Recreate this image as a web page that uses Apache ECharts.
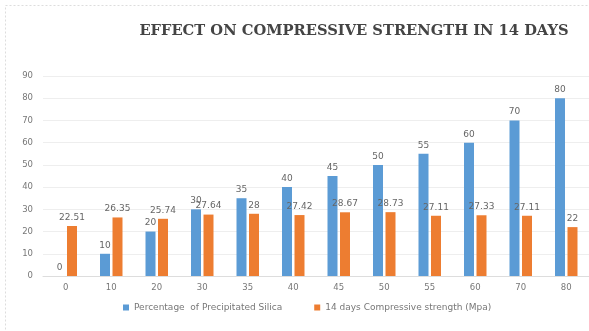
<!DOCTYPE html>
<html>
<head>
<meta charset="utf-8">
<script src="https://cdn.jsdelivr.net/npm/echarts@6/dist/echarts.min.js"></script>
<style>
  html, body { margin: 0; padding: 0; background: #fff; }
  #chart { width: 589px; height: 331px; }
</style>
</head>
<body>
<div id="chart"></div>
<script>
const categories = ['0', '10', '20', '30', '35', '40', '45', '50', '55', '60', '70', '80'];
const silica = [0, 10, 20, 30, 35, 40, 45, 50, 55, 60, 70, 80];
const strength = [22.51, 26.35, 25.74, 27.64, 28, 27.42, 28.67, 28.73, 27.11, 27.33, 27.11, 22];

const sans = 'DejaVu Sans';
const chart = echarts.init(document.getElementById('chart'));
chart.setOption({
  animation: false,
  backgroundColor: '#fff',
  title: {
    text: 'EFFECT ON COMPRESSIVE STRENGTH IN 14 DAYS',
    left: 349,
    top: 19,
    textAlign: 'center',
    textStyle: {
      fontFamily: 'DejaVu Serif',
      fontWeight: 'bold',
      fontSize: 14.7,
      color: '#444'
    }
  },
  legend: {
    bottom: 14,
    left: 118,
    itemWidth: 6,
    itemHeight: 6,
    itemGap: 32,
    icon: 'rect',
    textStyle: { fontSize: 9, color: '#777', fontFamily: sans },
    data: ['Percentage  of Precipitated Silica', '14 days Compressive strength (Mpa)']
  },
  grid: { left: 43, right: -5, top: 76, bottom: 55 },
  xAxis: {
    type: 'category',
    data: categories,
    axisLine: { lineStyle: { color: '#ddd' } },
    axisTick: { show: false },
    axisLabel: { fontSize: 8.5, color: '#777', margin: 7, fontFamily: sans }
  },
  yAxis: {
    type: 'value',
    min: 0,
    max: 90,
    interval: 10,
    axisLine: { show: false },
    axisTick: { show: false },
    splitLine: { lineStyle: { color: '#eee' } },
    axisLabel: { fontSize: 8.5, color: '#777', margin: 10, fontFamily: sans }
  },
  series: [
    {
      name: 'Percentage  of Precipitated Silica',
      type: 'bar',
      data: silica,
      barWidth: 10,
      barGap: '25%',
      itemStyle: { color: '#5B9BD5' },
      label: { show: true, position: 'top', fontSize: 9, color: '#666', fontFamily: sans, distance: 4 }
    },
    {
      name: '14 days Compressive strength (Mpa)',
      type: 'bar',
      data: strength,
      barWidth: 10,
      itemStyle: { color: '#ED7D31' },
      label: { show: true, position: 'top', fontSize: 9, color: '#666', fontFamily: sans, distance: 4 }
    }
  ],
  graphic: [{
    type: 'rect',
    shape: { x: 5.5, y: 5.5, width: 600, height: 340 },
    style: { fill: 'none', stroke: '#ddd', lineWidth: 1, lineDash: [2, 2] },
    silent: true
  }]
});
</script>
</body>
</html>
